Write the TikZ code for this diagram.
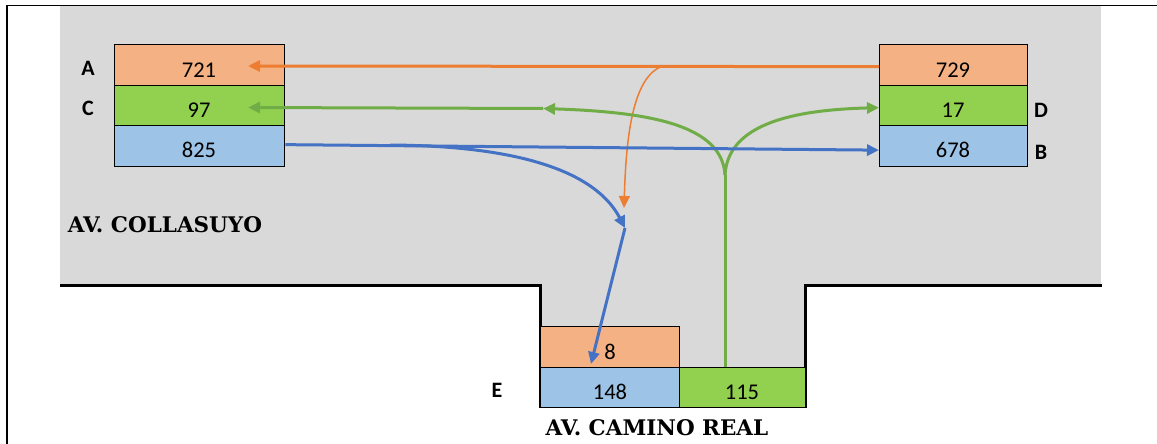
\documentclass[tikz,border=0pt]{standalone}
\usepackage{fontspec}
\setmainfont{Carlito}
\newfontfamily\roadfont{DejaVu Serif}
\usetikzlibrary{arrows.meta}

\definecolor{roadgray}{HTML}{D9D9D9}
\definecolor{cellorange}{HTML}{F4B183}
\definecolor{cellgreen}{HTML}{92D050}
\definecolor{cellblue}{HTML}{9DC3E6}
\definecolor{lineorange}{HTML}{ED7D31}
\definecolor{linegreen}{HTML}{70AD47}
\definecolor{lineblue}{HTML}{4472C4}

\tikzset{
  cell/.style={draw=black, line width=1.3pt, inner sep=0pt, anchor=north west},
  num/.style={font=\fontsize{22.5}{22.5}\selectfont, inner sep=0pt},
  approach/.style={font=\bfseries\fontsize{22}{22}\selectfont, inner sep=0pt},
  street/.style={font=\roadfont\bfseries\fontsize{21.5}{21.5}\selectfont, inner sep=0pt},
  kerb/.style={line width=3pt},
  flow/.style={line width=3pt, -{Triangle[length=12pt,width=11pt]}},
  thinflow/.style={line width=1.5pt, -{Triangle[length=12pt,width=11pt]}},
}

\begin{document}
\begin{tikzpicture}[x=1pt,y=-1pt]
\useasboundingbox (0,0) rectangle (1157,444);

% outer frame
\draw[line width=1.2pt] (7,444) -- (7,5.5) -- (1157,5.5);

% road surface
\fill[roadgray] (60,6) rectangle (1101,285);
\fill[roadgray] (540,284) rectangle (805,407);

% kerbs
\draw[kerb] (60,285) -- (540,285) -- (540,408);
\draw[kerb] (805,408) -- (805,285) -- (1102,285);

% west approach counts
\node[cell, fill=cellorange, minimum width=170pt, minimum height=41pt] (L1) at (114,44) {};
\node[cell, fill=cellgreen,  minimum width=170pt, minimum height=40pt] (L2) at (114,85) {};
\node[cell, fill=cellblue,   minimum width=170pt, minimum height=41pt] (L3) at (114,125) {};
\node[num] (nL1) at (199,70) {721};
\node[num] (nL2) at (199,110) {97};
\node[num] (nL3) at (199,150) {825};

% east approach counts
\node[cell, fill=cellorange, minimum width=148pt, minimum height=41pt] (R1) at (879,44) {};
\node[cell, fill=cellgreen,  minimum width=148pt, minimum height=40pt] (R2) at (879,85) {};
\node[cell, fill=cellblue,   minimum width=148pt, minimum height=41pt] (R3) at (879,125) {};
\node[num] (nR1) at (953,70) {729};
\node[num] (nR2) at (953,110) {17};
\node[num] (nR3) at (953,150) {678};

% south approach counts
\node[cell, fill=cellorange, minimum width=139pt, minimum height=41pt] (E1) at (540,326) {};
\node[cell, fill=cellblue,   minimum width=139pt, minimum height=40pt] (E2) at (540,367) {};
\node[cell, fill=cellgreen,  minimum width=126pt, minimum height=40pt] (E3) at (679,367) {};
\node[num] (nE1) at (610,352) {8};
\node[num] (nE2) at (610,392) {148};
\node[num] (nE3) at (742,392) {115};

% approach letters
\node[approach] (lA) at (88,68) {A};
\node[approach] (lC) at (88,108) {C};
\node[approach] (lD) at (1041,110) {D};
\node[approach] (lB) at (1041,152) {B};
\node[approach] (lE) at (497,390) {E};

% street names
\node[street] (sN) at (165,225) {AV. COLLASUYO};
\node[street] (sS) at (657,428) {AV. CAMINO REAL};

% turning points
\coordinate (L1tip) at (248,66);
\coordinate (L2tip) at (248,107.5);
\coordinate (oSplit) at (663,66);
\coordinate (oEnd) at (624,208);
\coordinate (gFork) at (725,175);
\coordinate (gMid) at (543,108.5);
\coordinate (bSplit) at (390,145);
\coordinate (bMid) at (625,228);
\coordinate (E1tip) at (591,364);

% orange movements
\draw[flow, lineorange] ([yshift=-1.5pt]R1.west) -- (L1tip);
\draw[thinflow, lineorange] (oSplit) .. controls (632,76) and (626,140) .. (oEnd);

% green movements
\draw[line width=3pt, linegreen] (E3.north -| gFork) -- (gFork);
\draw[flow, linegreen] (gFork) .. controls (722,125) and (650,112) .. (gMid);
\draw[flow, linegreen] (gMid) -- (L2tip);
\draw[flow, linegreen] (gFork) .. controls (728,125) and (790,110) .. ([yshift=-2pt]R2.west);

% blue movements
\draw[flow, lineblue] ([yshift=1.5pt]L3.east) -- ([yshift=-4pt]R3.west);
\draw[flow, lineblue] (bSplit) .. controls (540,146) and (600,180) .. (bMid);
\draw[flow, lineblue] (bMid) -- (E1tip);
\end{tikzpicture}
\end{document}
